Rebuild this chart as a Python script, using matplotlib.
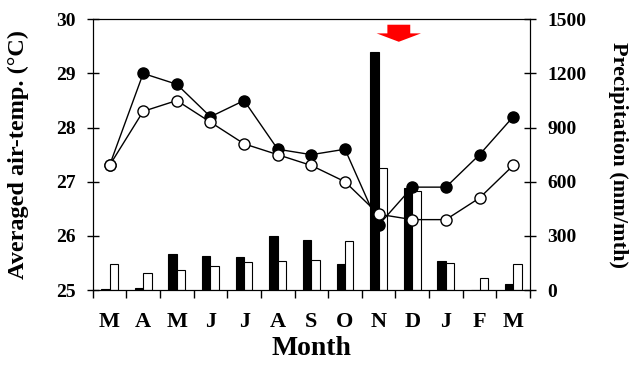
import matplotlib
matplotlib.use('Agg')
import matplotlib.pyplot as plt
from matplotlib.patches import FancyArrow
import numpy as np

# data
months = ['M', 'A', 'M', 'J', 'J', 'A', 'S', 'O', 'N', 'D', 'J', 'F', 'M']
temp_filled = [27.3, 29.0, 28.8, 28.2, 28.5, 27.6, 27.5, 27.6, 26.2, 26.9, 26.9, 27.5, 28.2]
temp_open = [27.3, 28.3, 28.5, 28.1, 27.7, 27.5, 27.3, 27.0, 26.4, 26.3, 26.3, 26.7, 27.3]
rain_black = [3, 13, 197, 188, 182, 298, 275, 146, 1321, 566, 160, 2, 35]
rain_white = [142, 96, 110, 133, 157, 160, 164, 271, 677, 551, 151, 69, 142]

plt.rcParams['font.family'] = ['Liberation Serif', 'DejaVu Serif']
plt.rcParams['font.weight'] = 'bold'

fig = plt.figure(figsize=(6.32, 3.67), dpi=100)
ax = fig.add_axes([0.1467, 0.2098, 0.6919, 0.7376])
ax2 = ax.twinx()

x = np.arange(len(months))
w = 0.25

# precipitation bars (right axis)
ax2.bar(x - w / 2, rain_black, w, color='black', edgecolor='black', linewidth=0.8)
ax2.bar(x + w / 2, rain_white, w, color='white', edgecolor='black', linewidth=0.8)
ax2.set_ylim(0, 1500)
ax2.set_yticks([0, 300, 600, 900, 1200, 1500])
ax2.set_ylabel('Precipitation (mm/mth)', fontsize=16, fontweight='bold',
               rotation=270, labelpad=30)

# temperature lines on top
ax.set_zorder(ax2.get_zorder() + 1)
ax.patch.set_visible(False)
ax.plot(x, temp_filled, '-o', color='black', lw=1, ms=8,
        mfc='black', mec='black', zorder=3)
ax.plot(x, temp_open, '-o', color='black', lw=1, ms=8,
        mfc='white', mec='black', zorder=4)
ax.set_ylim(25, 30)
ax.set_xlim(-0.5, len(months) - 0.5)
ax.set_yticks([25, 26, 27, 28, 29, 30])
ax.set_ylabel('Averaged air-temp. (\u00b0C)', fontsize=17.5, fontweight='bold', labelpad=19)

ax.set_xticks(x)
ax.set_xticklabels(months, fontsize=16, fontweight='bold')
ax.set_xticks(np.arange(-0.5, len(months), 1), minor=True)
ax.tick_params(axis='x', which='major', length=0, pad=16)
ax.tick_params(axis='x', which='minor', direction='out', length=6, width=1)
ax.set_xlabel('Month', fontsize=20, fontweight='bold', labelpad=3)

ax.tick_params(axis='y', direction='inout', length=9, width=1, labelsize=14, pad=8)
ax2.tick_params(axis='y', direction='inout', length=9, width=1, labelsize=14, pad=8)

# red arrow marking the peak rain
arrow = FancyArrow(8.6, 29.9, 0, -0.315, width=0.68, head_width=1.32,
                   head_length=0.155, length_includes_head=True,
                   color='red', ec='none', zorder=5)
ax.add_patch(arrow)

fig.savefig('out.png', dpi=100)
